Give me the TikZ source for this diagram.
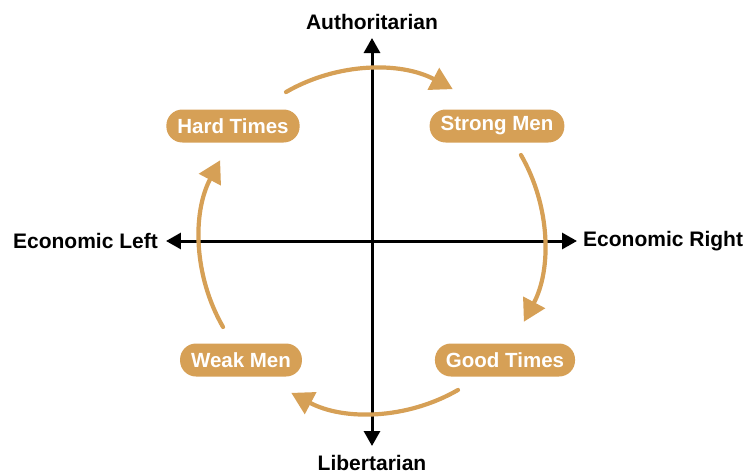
\documentclass[tikz,border=0pt]{standalone}
\usepackage{fontspec}
\setmainfont{Liberation Sans}
\usetikzlibrary{arrows.meta,positioning}
\definecolor{ochre}{RGB}{214,160,86}

\begin{document}
\begin{tikzpicture}
  [x=1pt,y=1pt,
   axis/.style={line width=3pt,-{Triangle[length=15pt,width=16pt]}},
   axislabel/.style={font=\bfseries\fontsize{21}{22}\selectfont,inner sep=0pt},
   phase/.style={
     rectangle,
     rounded corners=16pt,
     fill=ochre,
     text=white,
     font=\bfseries\fontsize{20.5}{22}\selectfont,
     minimum height=33pt,
     inner xsep=11pt
     },
   cycle/.style={draw=ochre,line width=4.2pt,line cap=round,
     -{Triangle[length=22pt,width=24pt]}}
  ]
  \useasboundingbox (-372,-234) rectangle (371,241);

  % AXES
  \coordinate (origin) at (0,0);
  \coordinate (north) at (0,203);
  \coordinate (south) at (0,-205);
  \coordinate (west) at (-206,0);
  \coordinate (east) at (205,0);
  \draw[axis] (origin) -- (north);
  \draw[axis] (origin) -- (south);
  \draw[axis] (origin) -- (west);
  \draw[axis] (origin) -- (east);

  \node[axislabel, above=8pt of north] (auth) {Authoritarian};
  \node[axislabel, below=9pt of south] (lib) {Libertarian};
  \node[axislabel, left=8pt of west] (left) {Economic Left};
  \node[axislabel, right=6pt of east] (right) {Economic Right};

  % PHASES
  \node[phase] (hardtimes) at (-139,115) {Hard Times};
  \node[phase] (strongmen) at (125,115) {Strong Men};
  \node[phase] (weakmen) at (-131,-119) {Weak Men};
  \node[phase] (goodtimes) at (133,-119) {Good Times};

  % CYCLE
  \coordinate (c1) at (120:172);
  \coordinate (c2) at (30:172);
  \coordinate (c3) at (-60:172);
  \coordinate (c4) at (210:172);
  \draw[cycle] (c1) arc[start angle=120,end angle=62,radius=172];
  \draw[cycle] (c2) arc[start angle=30,end angle=-28,radius=172];
  \draw[cycle] (c3) arc[start angle=-60,end angle=-118,radius=172];
  \draw[cycle] (c4) arc[start angle=210,end angle=152,radius=172];
\end{tikzpicture}
\end{document}
